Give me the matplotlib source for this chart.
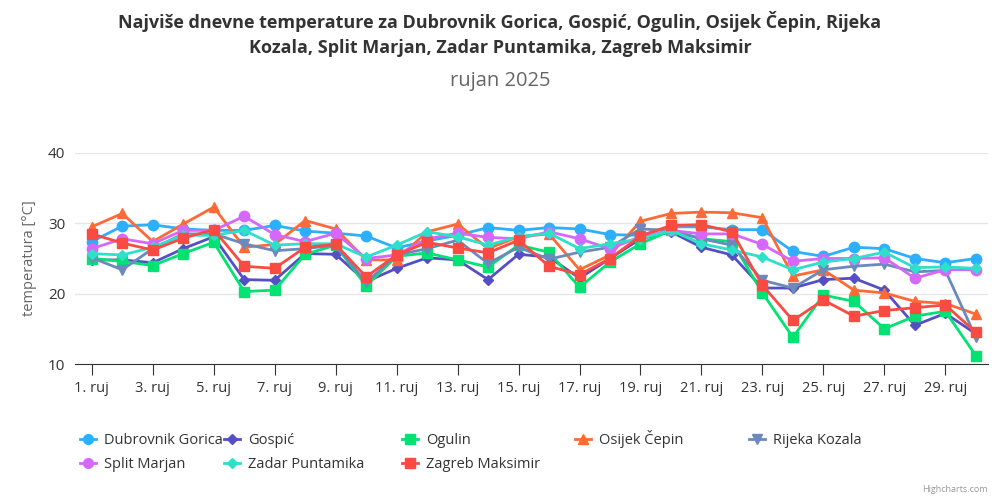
import numpy as np
import matplotlib
matplotlib.use("Agg")
import matplotlib.pyplot as plt
from matplotlib.lines import Line2D

plt.rcParams['font.family'] = ['Open Sans', 'DejaVu Sans']

days = list(range(1, 31))
tick_days = list(range(1, 31, 2))
tick_labels = [f"{d}. ruj" for d in tick_days]

stations = ["Dubrovnik Gorica", "Gospić", "Ogulin", "Osijek Čepin",
            "Rijeka Kozala", "Split Marjan", "Zadar Puntamika", "Zagreb Maksimir"]

dubrovnik = [27.4, 29.6, 29.8, 29.2, 29.0, 29.0, 29.7, 28.9, 28.6, 28.2,
             26.5, 27.5, 28.3, 29.4, 29.0, 29.4, 29.2, 28.4, 28.3, 29.5,
             29.5, 29.1, 29.1, 26.0, 25.3, 26.6, 26.4, 25.0, 24.4, 25.0]
gospic = [24.8, 24.8, 24.4, 26.4, 28.1, 22.0, 21.9, 25.7, 25.6, 21.7,
          23.6, 25.1, 24.8, 22.0, 25.6, 25.2, 22.2, 25.0, 27.8, 28.8,
          26.6, 25.5, 20.8, 20.8, 22.0, 22.2, 20.5, 15.5, 17.2, 14.3]
ogulin = [25.0, 24.6, 24.0, 25.7, 27.3, 20.3, 20.5, 25.6, 26.9, 21.1,
          25.3, 25.8, 24.8, 23.8, 26.9, 25.9, 20.9, 24.5, 27.1, 29.0,
          27.8, 27.4, 20.1, 13.8, 19.8, 18.9, 15.0, 16.8, 17.5, 11.2]
osijek = [29.5, 31.4, 27.4, 29.9, 32.3, 26.6, 27.0, 30.4, 29.2, 24.8,
          24.8, 28.8, 29.9, 26.4, 28.1, 28.5, 23.4, 25.5, 30.3, 31.4,
          31.6, 31.5, 30.8, 22.5, 23.4, 20.5, 20.1, 18.9, 18.6, 17.1]
rijeka = [25.1, 23.4, 26.4, 28.5, 28.5, 27.1, 26.1, 26.4, 26.9, 21.6,
          25.5, 26.4, 27.6, 24.3, 26.6, 24.9, 25.9, 26.6, 29.2, 29.0,
          27.8, 26.9, 21.9, 20.8, 23.4, 23.9, 24.2, 23.1, 23.3, 13.8]
split = [26.4, 27.8, 27.1, 29.0, 29.0, 31.0, 28.4, 27.4, 28.6, 25.0,
         25.5, 27.8, 28.6, 28.0, 27.8, 28.8, 27.8, 26.4, 28.1, 29.0,
         28.5, 28.5, 27.0, 24.6, 25.0, 25.0, 25.1, 22.2, 23.4, 23.4]
zadar = [25.7, 25.5, 26.6, 28.3, 28.3, 29.0, 26.9, 27.1, 27.1, 25.2,
         26.9, 28.8, 28.1, 26.9, 28.1, 28.6, 26.4, 27.1, 27.8, 29.0,
         27.1, 26.2, 25.2, 23.4, 24.5, 25.0, 25.9, 23.7, 23.8, 23.6]
zagreb = [28.5, 27.2, 26.2, 27.9, 29.1, 23.9, 23.6, 26.6, 27.0, 22.4,
          25.5, 27.3, 26.5, 25.8, 27.6, 23.9, 22.7, 25.0, 28.2, 29.7,
          29.8, 28.8, 21.2, 16.2, 19.1, 16.8, 17.6, 18.0, 18.4, 14.5]

series = [dubrovnik, gospic, ogulin, osijek, rijeka, split, zadar, zagreb]
colors = ["#2caffe", "#544fc5", "#00e272", "#fe6a35",
          "#6b8abc", "#d568fb", "#2ee0ca", "#fa4b42"]
markers = ["o", "D", "s", "^", "v", "o", "D", "s"]
msizes = [7.5, 5.5, 7.5, 7.5, 7.5, 7.5, 5.5, 7.5]

fig = plt.figure(figsize=(10, 5), dpi=100)
ax = fig.add_axes([0.075, 0.272, 0.913, 0.422])

for i, (name, vals) in enumerate(zip(stations, series)):
    ax.plot(days, vals, color=colors[i], marker=markers[i], ms=msizes[i],
            lw=2, label=name, zorder=3 + i, clip_on=False)

ax.set_xlim(0.45, 30.4)
ax.set_ylim(10, 40)
ax.set_yticks([10, 20, 30, 40])
ax.set_xticks(tick_days)
ax.set_xticklabels(tick_labels)
ax.grid(axis="y", color="#e6e6e6", lw=1)
ax.set_axisbelow(True)
for s in ["top", "right", "left"]:
    ax.spines[s].set_visible(False)
ax.spines["bottom"].set_color("#333333")
ax.tick_params(axis="y", length=0, labelsize=11, labelcolor="#333333", pad=7)
ax.tick_params(axis="x", length=8, color="#333333", labelsize=10.5,
               labelcolor="#333333", pad=4)
ax.set_ylabel("temperatura [°C]", color="#666666", fontsize=10.5, labelpad=8)

fig.text(0.5, 0.958, "Najviše dnevne temperature za Dubrovnik Gorica, Gospić, Ogulin, Osijek Čepin, Rijeka",
         ha="center", va="center", fontsize=13, fontweight="bold", color="#333333")
fig.text(0.5, 0.904, "Kozala, Split Marjan, Zadar Puntamika, Zagreb Maksimir",
         ha="center", va="center", fontsize=13, fontweight="bold", color="#333333")
fig.text(0.5, 0.838, "rujan 2025", ha="center", va="center", fontsize=14.5, color="#666666")

# legend, laid out like the highcharts one
leg_pos = [(88, 439), (232, 439), (410, 439), (583, 439), (757, 439),
           (88, 463), (232, 463), (410, 463)]
for i, (px, py) in enumerate(leg_pos):
    xf, yf = px / 1000, 1 - py / 500
    fig.add_artist(Line2D([xf - 0.008, xf + 0.008], [yf, yf], transform=fig.transFigure,
                          color=colors[i], lw=2))
    fig.add_artist(Line2D([xf], [yf], transform=fig.transFigure, color=colors[i],
                          marker=markers[i], ms=msizes[i] - 0.5, lw=0))
    fig.text(xf + 0.016, yf - 0.011, stations[i], ha="left", va="baseline", fontsize=10.5,
             color="#333333")

fig.text(0.988, 0.022, "Highcharts.com", ha="right", va="center", fontsize=6.5, color="#999999")

fig.savefig("out.png", dpi=100)
